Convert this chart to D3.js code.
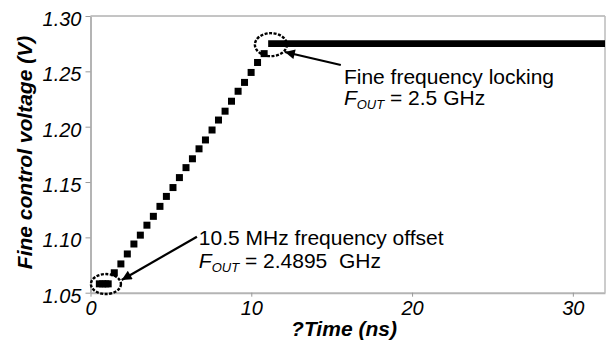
<!DOCTYPE html>
<html>
<head>
  <title>Fine control voltage vs time</title>
  <style>
    body {
      margin: 0;
      padding: 0;
      background: #ffffff;
      font-family: Arial, "Liberation Sans", sans-serif;
    }
    .tick text {
      font-size: 20px;
      font-style: italic;
      fill: #000;
    }
    .tick line {
      stroke: #999;
    }
    .domain {
      stroke: #b4b4b4;
      stroke-width: 2px;
    }
    .ann {
      font-size: 21px;
      fill: #000;
    }
  </style>
</head>
<body>
  <div id="chart"></div>
  <script src="https://d3js.org/d3.v7.min.js"></script>
  <script>
    // ramp markers (time in ns, voltage in V)
    const rampTime = [0.55, 0.75, 0.95, 1.10, 1.48, 1.89, 2.29, 2.70, 3.10, 3.51, 3.91, 4.32,
                      4.72, 5.13, 5.53, 5.94, 6.34, 6.75, 7.15, 7.56, 7.96, 8.37, 8.77, 9.18,
                      9.58, 9.99, 10.39, 10.80];
    const rampVolt = [1.058, 1.058, 1.058, 1.058, 1.068, 1.076, 1.085, 1.094, 1.102, 1.111, 1.119, 1.128,
                      1.137, 1.145, 1.154, 1.163, 1.171, 1.180, 1.188, 1.197, 1.206, 1.214, 1.223, 1.232,
                      1.240, 1.249, 1.258, 1.266];
    // locked part (markers merge into one thick line)
    const lockTime = [11.05, 32];
    const lockVolt = [1.275, 1.275];

    const xTicks = [0, 10, 20, 30];
    const yTicks = [1.05, 1.10, 1.15, 1.20, 1.25, 1.30];

    const W = 609, H = 340;
    const margin = { top: 16, right: 4, bottom: 47.3, left: 90.5 };
    const width = W - margin.left - margin.right;
    const height = H - margin.top - margin.bottom;

    const svg = d3.select("#chart")
      .append("svg")
      .attr("width", W)
      .attr("height", H);

    const g = svg.append("g")
      .attr("transform", `translate(${margin.left},${margin.top})`);

    const x = d3.scaleLinear().domain([0, 32]).range([0, width]);
    const y = d3.scaleLinear().domain([1.05, 1.30]).range([height, 0]);

    // plot frame (top + right)
    g.append("line")
      .attr("x1", 0).attr("x2", width).attr("y1", 0).attr("y2", 0)
      .attr("stroke", "#8a8a8a").attr("stroke-width", 1);
    g.append("line")
      .attr("x1", width).attr("x2", width).attr("y1", 0).attr("y2", height)
      .attr("stroke", "#bbb").attr("stroke-width", 1.5);

    // axes
    const xAxis = d3.axisBottom(x).tickValues(xTicks).tickSize(4).tickPadding(4).tickSizeOuter(0);
    const yAxis = d3.axisLeft(y).tickValues(yTicks).tickFormat(d3.format(".2f")).tickSize(5).tickPadding(4).tickSizeOuter(0);

    g.append("g")
      .attr("class", "x-axis")
      .attr("transform", `translate(0,${height})`)
      .call(xAxis);

    g.append("g")
      .attr("class", "y-axis")
      .call(yAxis)
      .selectAll("text")
      .attr("dy", "0.48em");

    // clip for the data
    svg.append("clipPath").attr("id", "clip")
      .append("rect").attr("width", width).attr("height", height + 10).attr("y", -10);

    const plot = g.append("g").attr("clip-path", "url(#clip)");

    // locked flat segment
    const lockData = lockTime.map((t, i) => ({ t: t, v: lockVolt[i] }));
    plot.append("path")
      .datum(lockData)
      .attr("fill", "none")
      .attr("stroke", "#000")
      .attr("stroke-width", 6.8)
      .attr("d", d3.line().x(d => x(d.t)).y(d => y(d.v)));

    // ramp markers
    const rampData = rampTime.map((t, i) => ({ t: t, v: rampVolt[i] }));
    const ms = 7;
    plot.selectAll(".pt")
      .data(rampData)
      .enter()
      .append("rect")
      .attr("class", "pt")
      .attr("x", d => x(d.t) - ms / 2)
      .attr("y", d => y(d.v) - ms / 2)
      .attr("width", ms)
      .attr("height", ms)
      .attr("fill", "#000");

    // arrow head
    svg.append("defs").append("marker")
      .attr("id", "arrow")
      .attr("viewBox", "0 0 10 10")
      .attr("refX", 10).attr("refY", 5)
      .attr("markerWidth", 5.5).attr("markerHeight", 4.5)
      .attr("orient", "auto")
      .attr("markerUnits", "strokeWidth")
      .append("path")
      .attr("d", "M0,0 L10,5 L0,10 z")
      .attr("fill", "#000");

    // annotation ellipses (dashed)
    function ellipse(t, v, rx, ry) {
      g.append("ellipse")
        .attr("cx", x(t)).attr("cy", y(v))
        .attr("rx", rx).attr("ry", ry)
        .attr("fill", "none")
        .attr("stroke", "#000")
        .attr("stroke-width", 2.4)
        .attr("stroke-dasharray", "3,1.5");
    }
    ellipse(0.96, 1.0578, 15, 10);
    ellipse(11.22, 1.2741, 16, 11.5);

    function arrow(t1, v1, t2, v2) {
      g.append("line")
        .attr("x1", x(t1)).attr("y1", y(v1))
        .attr("x2", x(t2)).attr("y2", y(v2))
        .attr("stroke", "#000")
        .attr("stroke-width", 2.2)
        .attr("marker-end", "url(#arrow)");
    }
    arrow(6.62, 1.1006, 1.94, 1.0615);
    arrow(15.57, 1.2557, 12.09, 1.2675);

    // annotation text
    function label(t, v1, v2, line1, value) {
      g.append("text").attr("class", "ann")
        .attr("x", x(t)).attr("y", y(v1))
        .text(line1);
      const l2 = g.append("text").attr("class", "ann")
        .attr("x", x(t)).attr("y", y(v2));
      l2.append("tspan").attr("font-style", "italic").text("F");
      l2.append("tspan").attr("font-style", "italic").attr("font-size", "13px").attr("dy", 4).text("OUT");
      l2.append("tspan").attr("dy", -4).text(" = " + value);
    }
    label(6.74, 1.0931, 1.0726, "10.5 MHz frequency offset", "2.4895  GHz");
    label(15.76, 1.2389, 1.2193, "Fine frequency locking", "2.5 GHz");
    g.selectAll("text.ann").style("white-space", "pre");

    // axis titles
    svg.append("text")
      .attr("x", 344)
      .attr("y", 336)
      .attr("text-anchor", "middle")
      .attr("font-size", "21px")
      .attr("font-weight", "bold")
      .attr("font-style", "italic")
      .text("?Time (ns)");

    svg.append("text")
      .attr("transform", `translate(32,152.5) rotate(-90)`)
      .attr("text-anchor", "middle")
      .attr("font-size", "21px")
      .attr("font-weight", "bold")
      .attr("font-style", "italic")
      .text("Fine control voltage (V)");
  </script>
</body>
</html>
